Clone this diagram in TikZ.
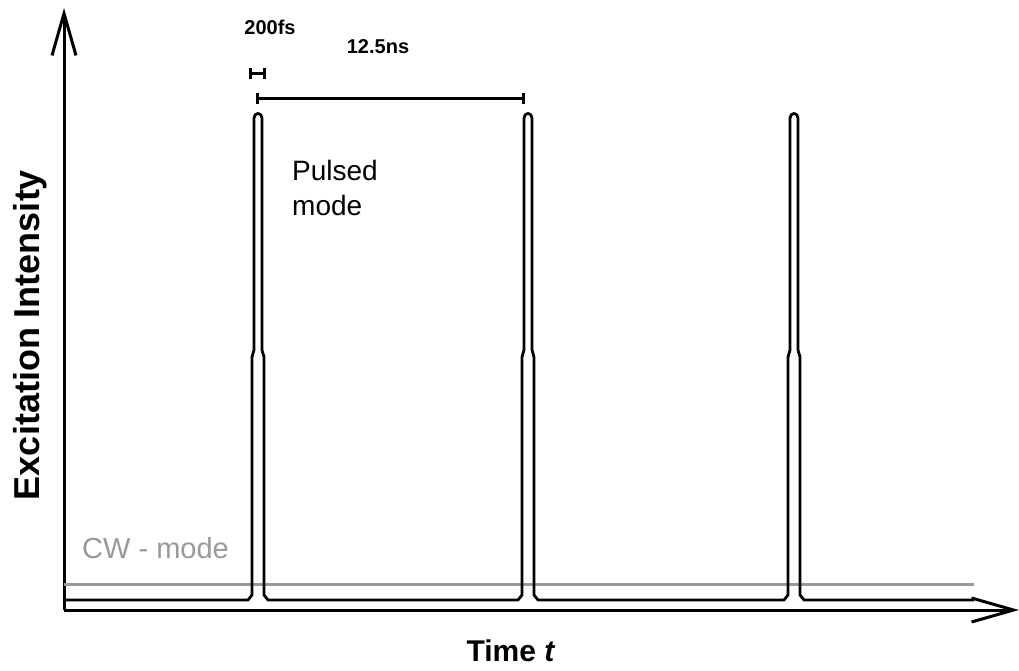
\documentclass[tikz,border=0pt]{standalone}
\usepackage{fontspec}
\setmainfont{Liberation Sans}
\usetikzlibrary{arrows.meta}

\definecolor{dialinecolor}{rgb}{0.000000, 0.000000, 0.000000}
\definecolor{cwcolor}{rgb}{0.600000, 0.600000, 0.600000}

\tikzset{
  axisline/.style={draw=dialinecolor, line width=3pt, line cap=butt,
    -{Straight Barb[length=42pt,width=24pt,line width=3pt]}},
  signalline/.style={draw=dialinecolor, line width=2.8pt, line join=round},
  cwline/.style={draw=cwcolor, line width=3pt},
  spanline/.style={draw=dialinecolor, line width=3pt, {Bar[width=11pt]}-{Bar[width=11pt]}},
  boldlabel/.style={font=\bfseries\fontsize{20}{24}\selectfont, inner sep=0pt},
}

\begin{document}
\begin{tikzpicture}[x=1pt,y=-1pt]
\useasboundingbox (0,0) rectangle (1019,671);
% axes
\coordinate (origin) at (64,610);
\coordinate (ytip) at (64,8);
\coordinate (xtip) at (1019,610);
\draw[axisline] (origin) -- (ytip);
\draw[axisline] (origin) -- (xtip);
% cw level
\coordinate (cwstart) at (64,584);
\coordinate (cwend) at (974,584);
\draw[cwline] (cwstart) -- (cwend);
% pulse train
\coordinate (basestart) at (64,600);
\coordinate (baseend) at (974,600);
\draw[signalline] (basestart)
  \foreach \c in {258,528,794} {
    -- (\c-10,600) -- (\c-6,595) -- (\c-6,357) -- (\c-4,350) -- (\c-4,118)
    .. controls (\c-4,112) and (\c+4,112) .. (\c+4,118)
    -- (\c+4,350) -- (\c+6,357) -- (\c+6,595) -- (\c+10,600)
  } -- (baseend);
% time spans
\coordinate (fsleft) at (249,74);
\coordinate (fsright) at (266,74);
\draw[spanline] (fsleft) -- (fsright);
\coordinate (nsleft) at (256,99);
\coordinate (nsright) at (525,99);
\draw[spanline] (nsleft) -- (nsright);
% setfont left to latex
\node[boldlabel] (fslabel) at (270,27) {200fs};
\node[boldlabel] (nslabel) at (378,47) {12.5ns};
\node[anchor=north west, align=left, inner sep=0pt,
  font=\fontsize{28}{35}\selectfont] (pulsedlabel) at (292,160) {Pulsed\\mode};
\node[anchor=west, inner sep=0pt, text=cwcolor,
  font=\fontsize{29}{34}\selectfont] (cwlabel) at (82,548) {CW - mode};
\node[rotate=90, inner sep=0pt,
  font=\bfseries\fontsize{36}{40}\selectfont] (ylabel) at (30,335) {Excitation Intensity};
\node[inner sep=0pt, font=\bfseries\fontsize{30}{34}\selectfont] (xlabel) at (511,651) {Time \textit{t}};
\end{tikzpicture}
\end{document}
